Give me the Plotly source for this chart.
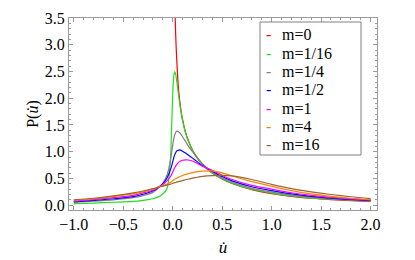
import plotly.graph_objects as go

u = [-1.0, -0.8, -0.6, -0.4, -0.3, -0.2, -0.15, -0.1, -0.06, -0.04, -0.02, -0.01,
     0.0, 0.01, 0.02, 0.03, 0.04, 0.06, 0.08, 0.1, 0.13, 0.16, 0.2, 0.25, 0.3,
     0.4, 0.5, 0.6, 0.8, 1.0, 1.2, 1.4, 1.6, 1.8, 2.0]

p_m0 = [None] * 13 + [5.6, 3.95, 3.2, 2.75, 2.15, 1.82, 1.6, 1.36, 1.2, 1.03, 0.88, 0.765,
                      0.6, 0.49, 0.405, 0.29, 0.215, 0.165, 0.13, 0.105, 0.087, 0.072]
p_m1_16 = [0.03, 0.04, 0.055, 0.07, 0.09, 0.12, 0.15, 0.21, 0.3, 0.48, 0.95, 1.5,
           2.05, 2.4, 2.5, 2.45, 2.33, 2.05, 1.79, 1.58, 1.35, 1.19, 1.03, 0.88, 0.765,
           0.6, 0.495, 0.412, 0.298, 0.225, 0.173, 0.137, 0.112, 0.093, 0.078]
p_m1_4 = [0.055, 0.075, 0.1, 0.14, 0.18, 0.24, 0.31, 0.41, 0.55, 0.68, 0.87, 0.99,
          1.12, 1.23, 1.31, 1.36, 1.385, 1.375, 1.335, 1.28, 1.19, 1.1, 1.0, 0.885, 0.775,
          0.615, 0.51, 0.428, 0.315, 0.245, 0.19, 0.15, 0.122, 0.1, 0.083]
p_m1_2 = [0.062, 0.09, 0.12, 0.16, 0.205, 0.265, 0.325, 0.4, 0.5, 0.58, 0.68, 0.74,
          0.81, 0.88, 0.94, 0.98, 1.01, 1.03, 1.03, 1.01, 0.975, 0.935, 0.88, 0.81, 0.74,
          0.635, 0.535, 0.455, 0.345, 0.272, 0.21, 0.165, 0.133, 0.108, 0.09]
p_m1 = [0.075, 0.105, 0.14, 0.185, 0.23, 0.28, 0.33, 0.385, 0.45, 0.49, 0.545, 0.58,
        0.62, 0.66, 0.7, 0.73, 0.76, 0.8, 0.825, 0.84, 0.848, 0.845, 0.825, 0.78, 0.73,
        0.65, 0.56, 0.48, 0.37, 0.3, 0.232, 0.182, 0.145, 0.118, 0.097]
p_m4 = [0.09, 0.12, 0.16, 0.21, 0.25, 0.3, 0.335, 0.365, 0.39, 0.41, 0.43, 0.445,
        0.46, 0.475, 0.485, 0.495, 0.505, 0.525, 0.54, 0.555, 0.575, 0.59, 0.61, 0.628, 0.638,
        0.64, 0.605, 0.545, 0.44, 0.355, 0.272, 0.21, 0.165, 0.13, 0.103]
p_m16 = [0.1, 0.13, 0.175, 0.23, 0.265, 0.31, 0.335, 0.355, 0.375, 0.385, 0.395, 0.4,
         0.41, 0.415, 0.42, 0.425, 0.43, 0.44, 0.45, 0.46, 0.475, 0.49, 0.505, 0.522, 0.537,
         0.553, 0.558, 0.548, 0.48, 0.39, 0.31, 0.25, 0.2, 0.158, 0.122]

labels = ["m=0", "m=1/16", "m=1/4", "m=1/2", "m=1", "m=4", "m=16"]
series = [p_m0, p_m1_16, p_m1_4, p_m1_2, p_m1, p_m4, p_m16]
colors = ["#ff0000", "#22dd22", "#808080", "#0000ff", "#ff00ff", "#ff8000", "#996633"]

FONT = "Liberation Serif"
FRAME = "#9a9a9a"

# layout geometry (pixels) for the legend box
W, H = 415, 260
ML, MR, MT, MB = 61, 46, 10, 58
PW, PH = W - ML - MR, H - MT - MB


def px(x):
    return (x - ML) / PW


def py(y):
    return (H - MB - y) / PH


fig = go.Figure()
for lab, vals, col in zip(labels, series, colors):
    fig.add_trace(go.Scatter(x=u, y=vals, mode="lines", name=lab, showlegend=False,
                             line=dict(color=col, width=1.2, shape="spline", smoothing=0.8)))

# legend box
fig.add_shape(type="rect", xref="paper", yref="paper",
              x0=px(252), x1=px(353), y0=py(147), y1=py(14),
              line=dict(color="#808080", width=1), fillcolor="white", layer="above")
for i, (lab, col) in enumerate(zip(labels, colors)):
    yy = py(27 + i * 18.3)
    fig.add_annotation(xref="paper", yref="paper", x=px(256), y=yy,
                       xanchor="left", yanchor="middle", showarrow=False,
                       text="-", font=dict(family=FONT, size=16, color=col))
    fig.add_annotation(xref="paper", yref="paper", x=px(272), y=yy,
                       xanchor="left", yanchor="middle", showarrow=False, align="left",
                       text=lab, font=dict(family=FONT, size=16, color="black"))

axis_common = dict(ticks="inside", ticklen=4, tickcolor=FRAME, linecolor=FRAME, linewidth=1,
                   mirror="allticks", showline=True, showgrid=False, zeroline=False,
                   automargin=False, tickformat=".1f", dtick=0.5,
                   tickfont=dict(family=FONT, size=16, color="black"),
                   minor=dict(dtick=0.1, ticklen=2, ticks="inside", tickcolor=FRAME))

fig.update_layout(
    width=W, height=H,
    margin=dict(l=ML, r=MR, t=MT, b=MB),
    plot_bgcolor="white", paper_bgcolor="white",
    xaxis=dict(range=[-1.048, 2.065], tick0=-1.0,
               title=dict(text="<i>u\u0307</i>", font=dict(family=FONT, size=17, color="black"),
                          standoff=8),
               **axis_common),
    yaxis=dict(range=[-0.09, 3.5], tick0=0.0,
               title=dict(text="P(<i>u\u0307</i>)", font=dict(family=FONT, size=16, color="black"),
                          standoff=2),
               **axis_common),
)

fig.write_html("out.html")
